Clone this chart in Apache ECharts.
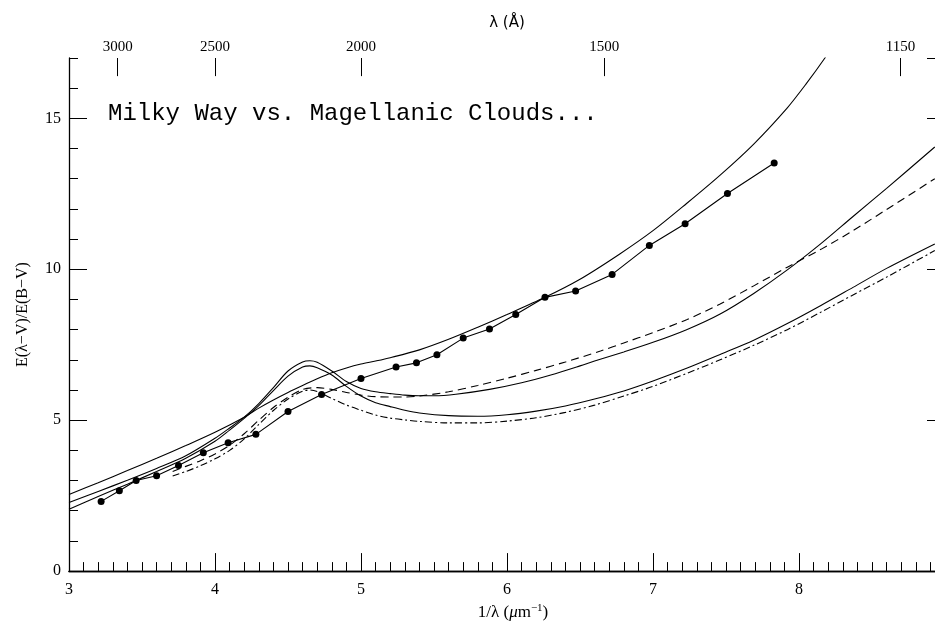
<!DOCTYPE html>
<html><head><meta charset="utf-8">
<script src="https://cdn.jsdelivr.net/npm/echarts@6/dist/echarts.min.js"></script>
<style>html,body{margin:0;padding:0;background:#fff;overflow:hidden}#c{width:945px;height:626px}</style>
</head><body><div id="c"></div>
<script>
// ---- data ----
const titleText = 'Milky Way vs. Magellanic Clouds...';
const lambdaTickLabels = [3000, 2500, 2000, 1500, 1150]; // Å, top axis

const curveA_x = [3.0,3.2,3.4,3.6,3.8,4.0,4.2,4.3,4.4,4.5,4.6,4.7,4.8,4.9,5.0,5.1,5.2,5.4,5.6,5.8,6.0,6.26,6.5,6.77,7.0,7.23,7.46,7.69,7.92,8.05,8.17,8.3];
const curveA_y = [2.54,2.93,3.33,3.74,4.16,4.60,5.10,5.40,5.67,5.92,6.15,6.37,6.57,6.73,6.86,6.96,7.07,7.33,7.68,8.08,8.50,9.07,9.67,10.50,11.28,12.18,13.12,14.15,15.35,16.15,16.95,17.9];

const curveB_x = [3.0,3.2,3.4,3.6,3.8,4.0,4.1,4.2,4.3,4.4,4.5,4.6,4.65,4.7,4.8,4.9,5.0,5.1,5.2,5.3,5.4,5.5,5.65,5.88,6.1,6.3,6.5,6.6,6.8,7.0,7.23,7.46,7.69,7.92,8.15,8.37,8.6,8.93];
const curveB_y = [2.27,2.64,3.01,3.40,3.82,4.40,4.74,5.10,5.55,6.08,6.63,6.93,6.97,6.92,6.63,6.28,6.05,5.94,5.88,5.83,5.81,5.81,5.86,6.02,6.24,6.50,6.80,6.96,7.26,7.58,8.00,8.52,9.20,9.98,10.85,11.75,12.68,14.05];

const curveC_x = [3.0,3.2,3.4,3.6,3.8,4.0,4.1,4.2,4.3,4.4,4.5,4.6,4.65,4.7,4.8,4.9,5.0,5.1,5.2,5.3,5.4,5.6,5.8,6.0,6.2,6.4,6.6,6.8,7.0,7.23,7.46,7.69,7.92,8.15,8.37,8.6,8.93];
const curveC_y = [2.05,2.47,2.88,3.30,3.74,4.30,4.67,5.06,5.48,5.98,6.46,6.76,6.80,6.74,6.50,6.12,5.80,5.58,5.45,5.33,5.24,5.15,5.13,5.18,5.30,5.47,5.70,5.97,6.30,6.72,7.18,7.65,8.20,8.80,9.40,10.03,10.84];

const dashed_x = [3.71,3.8,3.9,4.0,4.1,4.2,4.3,4.4,4.5,4.6,4.7,4.8,4.9,5.0,5.1,5.2,5.3,5.4,5.6,5.8,6.0,6.2,6.4,6.64,6.8,7.0,7.23,7.46,7.69,7.92,8.15,8.37,8.6,8.93];
const dashed_y = [3.30,3.47,3.66,3.88,4.17,4.55,5.00,5.42,5.76,6.02,6.08,6.02,5.92,5.83,5.78,5.77,5.77,5.80,5.94,6.15,6.39,6.65,6.93,7.29,7.56,7.90,8.33,8.85,9.45,10.07,10.66,11.28,11.98,13.0];

const dashdot_x = [3.71,3.8,3.9,4.0,4.1,4.2,4.3,4.4,4.5,4.6,4.65,4.7,4.8,4.9,5.0,5.1,5.2,5.3,5.4,5.6,5.8,6.0,6.2,6.4,6.6,6.8,7.0,7.23,7.46,7.69,7.92,8.15,8.37,8.6,8.93];
const dashdot_y = [3.15,3.30,3.49,3.72,4.00,4.38,4.86,5.32,5.70,5.96,6.00,5.95,5.72,5.50,5.33,5.17,5.07,5.01,4.96,4.91,4.91,4.97,5.08,5.26,5.50,5.80,6.12,6.55,7.00,7.48,8.00,8.58,9.15,9.74,10.62];

const dots_x = [3.22,3.345,3.46,3.60,3.75,3.92,4.09,4.28,4.50,4.73,5.00,5.24,5.38,5.52,5.70,5.88,6.06,6.26,6.47,6.72,6.975,7.22,7.51,7.83];
const dots_y = [2.31,2.66,3.00,3.16,3.50,3.92,4.25,4.53,5.29,5.85,6.38,6.76,6.90,7.17,7.72,8.02,8.50,9.07,9.28,9.83,10.79,11.51,12.51,13.52];

// ---- chart ----
const zip = (xs, ys) => xs.map((x, i) => [x, ys[i]]);
const lamPos = lambdaTickLabels.map(l => 1e4 / l);
const serif = 'Liberation Serif';
const black = '#000';
const Y_MAX = 17;
const topTickLenUnits = 0.6; // ~18 px of the y scale

const chart = echarts.init(document.getElementById('c'), null, {renderer: 'canvas'});

const lineSeries = (xs, ys, type) => ({
  type: 'line', xAxisIndex: 0, yAxisIndex: 0, data: zip(xs, ys),
  showSymbol: false, smooth: 0.3, clip: true, silent: true,
  lineStyle: {color: black, width: 1.1, type: type || 'solid'}
});

chart.setOption({
  animation: false,
  backgroundColor: '#fff',
  title: {
    text: titleText, left: 103, top: 97,
    textStyle: {fontFamily: 'Liberation Mono', fontSize: 24, fontWeight: 'normal', color: black}
  },
  grid: {left: 69, right: 0, top: 58, bottom: 53},
  xAxis: [
    {
      type: 'value', position: 'bottom', min: 3, max: 9, interval: 1,
      axisLine: {show: true, lineStyle: {color: black, width: 1.3}},
      axisTick: {show: true, inside: true, length: 18, lineStyle: {color: black, width: 1}},
      minorTick: {show: true, splitNumber: 10, length: 9, lineStyle: {color: black, width: 1}},
      splitLine: {show: false},
      axisLabel: {color: black, fontFamily: serif, fontSize: 16, margin: 11, showMaxLabel: false},
      name: '1/λ ({mu|μ}m{sup|−1})', nameLocation: 'middle', nameGap: 29,
      nameTextStyle: {
        color: black, fontFamily: serif, fontSize: 17, padding: [0, 0, 0, 12],
        rich: {
          mu: {fontFamily: serif, fontSize: 17, fontStyle: 'italic', color: black},
          sup: {fontFamily: serif, fontSize: 11, color: black, verticalAlign: 'top', padding: [0, 0, 8, 0]}
        }
      }
    },
    {
      type: 'value', position: 'top', min: 3, max: 9,
      axisLine: {show: true, lineStyle: {color: black, width: 1.3}},
      axisTick: {show: false},
      splitLine: {show: false},
      axisLabel: {
        show: true, customValues: lamPos, color: black, fontFamily: serif, fontSize: 15, margin: 3,
        formatter: v => String(Math.round(1e4 / v))
      },
      name: 'λ (Å)', nameLocation: 'middle', nameGap: 27,
      nameTextStyle: {color: black, fontFamily: 'DejaVu Sans', fontSize: 15}
    }
  ],
  yAxis: [
    {
      type: 'value', position: 'left', min: 0, max: Y_MAX, interval: 5,
      axisLine: {show: true, lineStyle: {color: black, width: 1.3}},
      axisTick: {show: true, inside: true, length: 18, lineStyle: {color: black, width: 1}},
      splitLine: {show: false},
      axisLabel: {color: black, fontFamily: serif, fontSize: 16, margin: 8, showMaxLabel: false},
      name: 'E(λ−V)/E(B−V)', nameLocation: 'middle', nameGap: 38,
      nameTextStyle: {color: black, fontFamily: serif, fontSize: 16}
    },
    {
      type: 'value', position: 'right', min: 0, max: Y_MAX, interval: 5,
      axisLine: {show: true, lineStyle: {color: black, width: 1.3}},
      axisTick: {show: true, inside: true, length: 18, lineStyle: {color: black, width: 1}},
      splitLine: {show: false}, axisLabel: {show: false}
    },
    {
      type: 'value', position: 'left', min: 0, max: Y_MAX, interval: 1,
      axisLine: {show: false},
      axisTick: {show: true, inside: true, length: 9, lineStyle: {color: black, width: 1}},
      splitLine: {show: false}, axisLabel: {show: false}
    },
    {
      type: 'value', position: 'right', min: 0, max: Y_MAX, interval: 1,
      axisLine: {show: false},
      axisTick: {show: true, inside: true, length: 9, lineStyle: {color: black, width: 1}},
      splitLine: {show: false}, axisLabel: {show: false}
    }
  ],
  series: [
    lineSeries(curveA_x, curveA_y),
    lineSeries(curveB_x, curveB_y),
    lineSeries(curveC_x, curveC_y),
    lineSeries(dashed_x, dashed_y, [8, 5]),
    lineSeries(dashdot_x, dashdot_y, [7, 3, 2, 3]),
    {
      type: 'line', xAxisIndex: 0, yAxisIndex: 0, data: zip(dots_x, dots_y),
      showSymbol: true, symbol: 'circle', symbolSize: 7, smooth: false, silent: true,
      itemStyle: {color: black}, lineStyle: {color: black, width: 1.1},
      markLine: {
        silent: true, animation: false, symbol: ['none', 'none'],
        label: {show: false},
        lineStyle: {color: black, width: 1, type: 'solid'},
        data: lamPos.map(x => [{coord: [x, Y_MAX]}, {coord: [x, Y_MAX - topTickLenUnits]}])
      }
    }
  ]
});
</script>
</body></html>
